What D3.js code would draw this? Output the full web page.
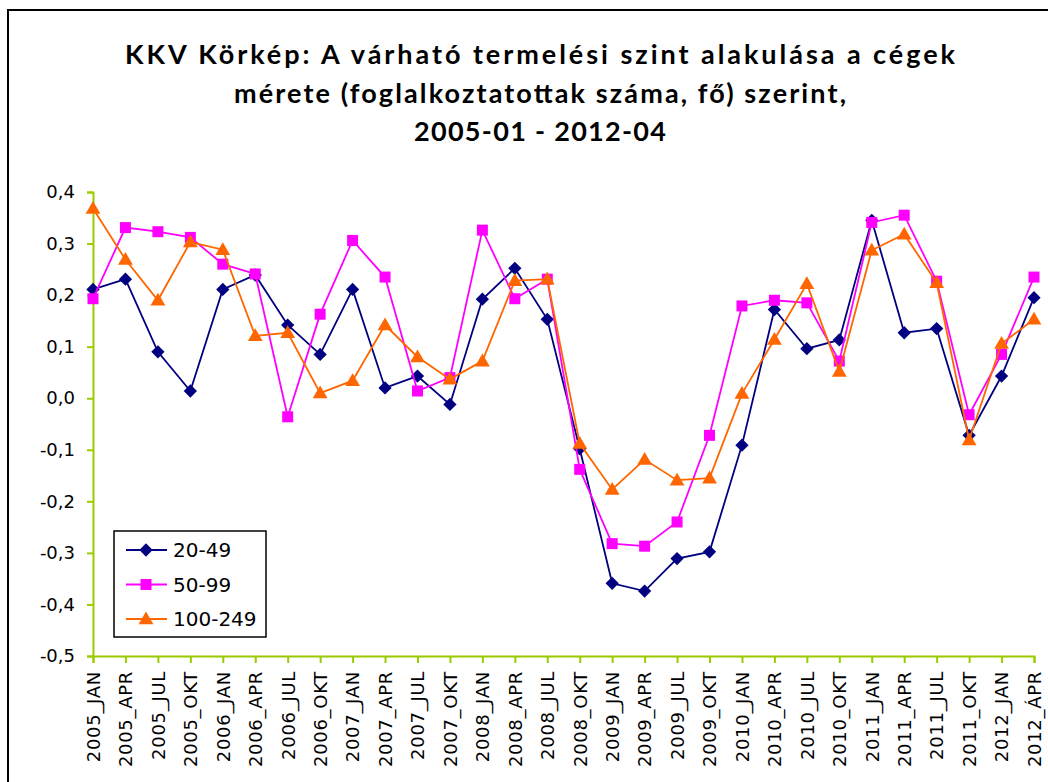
<!DOCTYPE html>
<html>
<head>
<meta charset="utf-8">
<script src="https://cdn.jsdelivr.net/npm/d3@7"></script>
<style>
	body { margin: 0; background: #fff; }
	svg { display: block; }
	.tick text { fill: #000; }
</style>
</head>
<body>
<script>
/*categories on the x axis*/
var quarters = ["2005_JAN","2005_APR","2005_JUL","2005_OKT","2006_JAN","2006_APR","2006_JUL","2006_OKT",
	"2007_JAN","2007_APR","2007_JUL","2007_OKT","2008_JAN","2008_APR","2008_JUL","2008_OKT",
	"2009_JAN","2009_APR","2009_JUL","2009_OKT","2010_JAN","2010_APR","2010_JUL","2010_OKT",
	"2011_JAN","2011_APR","2011_JUL","2011_OKT","2012_JAN","2012_ÁPR"];

/*series values*/
var size20to49 = [0.211,0.231,0.090,0.014,0.211,0.239,0.142,0.085,0.211,0.020,0.043,-0.012,0.192,0.252,0.153,-0.098,
	-0.359,-0.374,-0.311,-0.298,-0.091,0.172,0.096,0.113,0.345,0.127,0.135,-0.072,0.043,0.195];
var size50to99 = [0.193,0.331,0.323,0.312,0.260,0.241,-0.036,0.163,0.306,0.235,0.014,0.040,0.326,0.193,0.231,-0.138,
	-0.282,-0.287,-0.240,-0.072,0.179,0.190,0.185,0.072,0.341,0.355,0.227,-0.032,0.085,0.235];
var size100to249 = [0.368,0.269,0.190,0.303,0.288,0.121,0.127,0.010,0.034,0.142,0.080,0.037,0.072,0.228,0.231,-0.088,
	-0.177,-0.119,-0.159,-0.155,0.009,0.114,0.222,0.052,0.287,0.318,0.224,-0.081,0.106,0.153];

/*legend names and y tick values*/
var seriesNames = ["20-49","50-99","100-249"];
var yTicks = [-0.5,-0.4,-0.3,-0.2,-0.1,0.0,0.1,0.2,0.3,0.4];

var titleLines = ["KKV Körkép: A várható termelési szint alakulása a cégek",
	"mérete (foglalkoztatottak száma, fő) szerint,",
	"2005-01 - 2012-04"];

var svgWidth = 1048;
var svgHeight = 782;
var axisColor = "#99cc00";
var labelFont = "'DejaVu Sans', Verdana, sans-serif";

var series = [
	{name: seriesNames[0], values: size20to49, color: "#000080", marker: "diamond"},
	{name: seriesNames[1], values: size50to99, color: "#ff00ff", marker: "square"},
	{name: seriesNames[2], values: size100to249, color: "#ff6600", marker: "triangle"}
];

var svg = d3.select("body")
	.append("svg")
	.attr("width", svgWidth)
	.attr("height", svgHeight);

/*outer frame of the chart object, cut off at right and bottom*/
svg.append("rect")
	.attr("x", 8)
	.attr("y", 10)
	.attr("width", 1200)
	.attr("height", 1000)
	.attr("fill", "#fff")
	.attr("stroke", "#000")
	.attr("stroke-width", 2);

/*title, three centred lines*/
var titleWidths = [830, 612, 252];
svg.append("g").selectAll("text")
	.data(titleLines)
	.enter()
	.append("text")
	  .attr("x", 540)
	  .attr("y", (d, i) => 64 + i * 38.5)
	  .attr("text-anchor", "middle")
	  .attr("textLength", (d, i) => titleWidths[i])
	  .attr("lengthAdjust", "spacing")
	  .style("font-family", "Lato, 'Open Sans', sans-serif")
	  .style("font-weight", "bold")
	  .style("font-size", "27px")
	  .text(d => d);

/*scales*/
var xScale = d3.scalePoint()
	.domain(quarters)
	.range([93, 1034]);

var yScale = d3.scaleLinear()
	.domain([-0.5, 0.4])
	.range([656, 192]);

var commaFormat = v => d3.format(".1f")(v).replace(".", ",").replace("−", "-");

/*y axis*/
var yAxis = svg.append("g")
	.attr("transform", "translate(93,0)")
	.call(d3.axisLeft(yScale).tickValues(yTicks).tickFormat(commaFormat).tickSize(6).tickPadding(12));
yAxis.selectAll("text")
	.style("font-family", labelFont)
	.style("font-size", "18px");

/*x axis at the bottom*/
var xAxis = svg.append("g")
	.attr("transform", "translate(0,656)")
	.call(d3.axisBottom(xScale).tickSize(7).tickPadding(4));
xAxis.selectAll("text")
	.attr("transform", "rotate(-90)")
	.attr("x", -15)
	.attr("y", 0)
	.attr("dy", "0.35em")
	.attr("text-anchor", "end")
	.style("letter-spacing", "0.7px")
	.style("font-family", labelFont)
	.style("font-size", "18px");

[yAxis, xAxis].forEach(function (ax) {
	ax.selectAll(".domain").attr("stroke", axisColor).attr("stroke-width", 2);
	ax.selectAll(".tick line").attr("stroke", axisColor).attr("stroke-width", 2);
});

/*marker paths*/
function markerPath(kind) {
	if (kind == "diamond") return d3.symbol().type(d3.symbolSquare).size(88)();
	if (kind == "square") return d3.symbol().type(d3.symbolSquare).size(121)();
	return d3.symbol().type(d3.symbolTriangle).size(95)();
}
function markerTransform(kind, x, y) {
	if (kind == "diamond") return `translate(${x},${y}) rotate(45)`;
	if (kind == "triangle") return `translate(${x},${y + 1})`;
	return `translate(${x},${y})`;
}

var line = d3.line()
	.x((d, i) => xScale(quarters[i]))
	.y(d => yScale(d));

/*lines first, then markers, drawn series by series*/
series.forEach(function (s) {
	var g = svg.append("g");
	g.append("path")
		.datum(s.values)
		.attr("d", line)
		.attr("fill", "none")
		.attr("stroke", s.color)
		.attr("stroke-width", 1.8);
	g.selectAll(".marker")
		.data(s.values)
		.enter()
		.append("path")
		  .attr("class", "marker")
		  .attr("d", markerPath(s.marker))
		  .attr("transform", (d, i) => markerTransform(s.marker, xScale(quarters[i]), yScale(d)))
		  .attr("fill", s.color);
});

/*legend box*/
var legend = svg.append("g");
legend.append("rect")
	.attr("x", 114)
	.attr("y", 531)
	.attr("width", 152)
	.attr("height", 106)
	.attr("fill", "#fff")
	.attr("stroke", "#000")
	.attr("stroke-width", 1.5);

var legendRows = legend.selectAll(".row")
	.data(series)
	.enter()
	.append("g")
	  .attr("class", "row")
	  .attr("transform", (d, i) => `translate(0,${550 + i * 34.5})`);

legendRows.append("line")
	.attr("x1", 126)
	.attr("x2", 167)
	.attr("stroke", d => d.color)
	.attr("stroke-width", 1.8);

legendRows.append("path")
	.attr("d", d => markerPath(d.marker))
	.attr("transform", d => markerTransform(d.marker, 146, 0))
	.attr("fill", d => d.color);

legendRows.append("text")
	.attr("x", 173)
	.attr("dy", "0.36em")
	.style("font-family", labelFont)
	.style("font-size", "20px")
	.text(d => d.name);
</script>
</body>
</html>
